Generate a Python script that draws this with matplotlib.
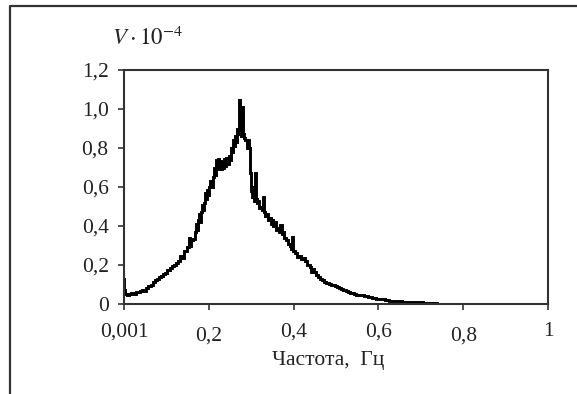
import matplotlib
matplotlib.use("Agg")
import matplotlib.pyplot as plt
from matplotlib.lines import Line2D
from matplotlib.transforms import ScaledTranslation

freq = [0.000, 0.002, 0.005, 0.010, 0.015, 0.020, 0.025, 0.030, 0.035, 0.040,
        0.045, 0.050, 0.055, 0.060, 0.065, 0.070, 0.075, 0.080, 0.085, 0.090,
        0.095, 0.100, 0.105, 0.110, 0.115, 0.120, 0.125, 0.130, 0.135, 0.140,
        0.145, 0.150, 0.155, 0.158, 0.160, 0.165, 0.168, 0.170, 0.173, 0.175,
        0.178, 0.180, 0.183, 0.185, 0.188, 0.190, 0.193, 0.195, 0.198, 0.200,
        0.203, 0.205, 0.208, 0.210, 0.213, 0.215, 0.218, 0.220, 0.223, 0.225,
        0.228, 0.230, 0.233, 0.235, 0.238, 0.240, 0.243, 0.245, 0.248, 0.250,
        0.253, 0.255, 0.258, 0.260, 0.263, 0.265, 0.268, 0.270, 0.272, 0.274,
        0.276, 0.278, 0.280, 0.282, 0.285, 0.288, 0.290, 0.293, 0.295, 0.297,
        0.300, 0.302, 0.305, 0.307, 0.309, 0.312, 0.315, 0.317, 0.320, 0.323,
        0.326, 0.329, 0.331, 0.335, 0.338, 0.340, 0.345, 0.348, 0.350, 0.355,
        0.358, 0.360, 0.365, 0.368, 0.370, 0.373, 0.375, 0.380, 0.385, 0.390,
        0.393, 0.396, 0.398, 0.400, 0.405, 0.410, 0.415, 0.420, 0.425, 0.430,
        0.435, 0.440, 0.443, 0.445, 0.450, 0.455, 0.460, 0.465, 0.470, 0.475,
        0.480, 0.485, 0.490, 0.495, 0.500, 0.505, 0.510, 0.515, 0.520, 0.525,
        0.530, 0.535, 0.540, 0.545, 0.550, 0.560, 0.570, 0.580, 0.590, 0.600,
        0.610, 0.620, 0.630, 0.640, 0.650, 0.660, 0.670, 0.680, 0.690, 0.700,
        0.710, 0.720, 0.725, 0.750, 0.800, 0.850, 0.900, 0.950, 1.000]

amplitude = [0.130, 0.070, 0.050, 0.047, 0.052, 0.055, 0.053, 0.060, 0.062, 0.066,
             0.070, 0.068, 0.080, 0.090, 0.100, 0.112, 0.125, 0.130, 0.138, 0.145,
             0.152, 0.160, 0.175, 0.185, 0.193, 0.200, 0.210, 0.220, 0.245, 0.235,
             0.270, 0.290, 0.340, 0.300, 0.330, 0.335, 0.370, 0.410, 0.380, 0.430,
             0.460, 0.420, 0.470, 0.510, 0.480, 0.520, 0.570, 0.540, 0.585, 0.560,
             0.600, 0.630, 0.600, 0.650, 0.700, 0.660, 0.740, 0.690, 0.745, 0.700,
             0.735, 0.690, 0.730, 0.700, 0.745, 0.710, 0.750, 0.720, 0.760, 0.740,
             0.800, 0.780, 0.840, 0.810, 0.860, 0.830, 0.900, 0.870, 1.045, 0.890,
             0.900, 0.860, 1.010, 0.870, 0.850, 0.840, 0.800, 0.840, 0.800, 0.670,
             0.580, 0.550, 0.600, 0.530, 0.670, 0.540, 0.520, 0.530, 0.490, 0.500,
             0.480, 0.550, 0.470, 0.450, 0.460, 0.430, 0.440, 0.410, 0.430, 0.400,
             0.420, 0.380, 0.390, 0.370, 0.405, 0.360, 0.370, 0.340, 0.330, 0.310,
             0.300, 0.280, 0.345, 0.270, 0.260, 0.240, 0.245, 0.230, 0.235, 0.220,
             0.200, 0.190, 0.165, 0.180, 0.165, 0.150, 0.140, 0.130, 0.125, 0.115,
             0.110, 0.105, 0.100, 0.095, 0.090, 0.088, 0.080, 0.075, 0.070, 0.066,
             0.060, 0.058, 0.055, 0.050, 0.048, 0.044, 0.042, 0.038, 0.033, 0.028,
             0.024, 0.020, 0.016, 0.014, 0.013, 0.011, 0.010, 0.009, 0.008, 0.008,
             0.007, 0.006, 0.003, 0.002, 0.002, 0.002, 0.002, 0.002, 0.002]

xticks = [0.0, 0.2, 0.4, 0.6, 0.8, 1.0]
xtick_labels = ["0,001", "0,2", "0,4", "0,6", "0,8", "1"]
yticks = [0.0, 0.2, 0.4, 0.6, 0.8, 1.0, 1.2]
ytick_labels = ["0", "0,2", "0,4", "0,6", "0,8", "1,0", "1,2"]

plt.rcParams['font.family'] = ['Liberation Serif', 'DejaVu Serif']
plt.rcParams['mathtext.fontset'] = 'stix'

W, H = 577, 394
fig = plt.figure(figsize=(W / 100, H / 100), dpi=100)
fig.patch.set_facecolor('white')

L, R, T, B = 124, 548, 70, 304
ax = fig.add_axes([L / W, 1 - B / H, (R - L) / W, (B - T) / H])

ax.plot(freq, amplitude, color='black', lw=2.1, drawstyle='steps-mid',
        solid_joinstyle='miter')
ax.set_xlim(0, 1)
ax.set_ylim(0, 1.2)

ax.set_xticks(xticks)
ax.set_xticklabels(xtick_labels)
ax.set_yticks(yticks)
ax.set_yticklabels(ytick_labels)
ax.tick_params(axis='both', direction='out', length=4, width=1.2,
               color='#333333', labelsize=15.5, labelcolor='#222222')
ax.tick_params(axis='x', pad=9)
ax.tick_params(axis='y', pad=7)

for i, lab in enumerate(ax.get_xticklabels()):
    if xtick_labels[i] in ("0,2", "0,8"):
        lab.set_transform(lab.get_transform() +
                          ScaledTranslation(0, -4 / 100, fig.dpi_scale_trans))

for s in ax.spines.values():
    s.set_linewidth(1.5)
    s.set_color('#333333')

fig.text(112 / W, 1 - 38 / H, r'$V\cdot10^{-4}$', fontsize=16.5,
         ha='left', va='center', color='#222222')
fig.text(328 / W, 1 - 360 / H, 'Частота,  Гц', fontsize=15.5,
         ha='center', va='center', color='#222222')

fig.add_artist(Line2D([10 / W, 10 / W, 1.0], [0.0, 1 - 6 / H, 1 - 6 / H],
                      transform=fig.transFigure, color='#333333', lw=1.6))

fig.savefig('out.png', dpi=100)
